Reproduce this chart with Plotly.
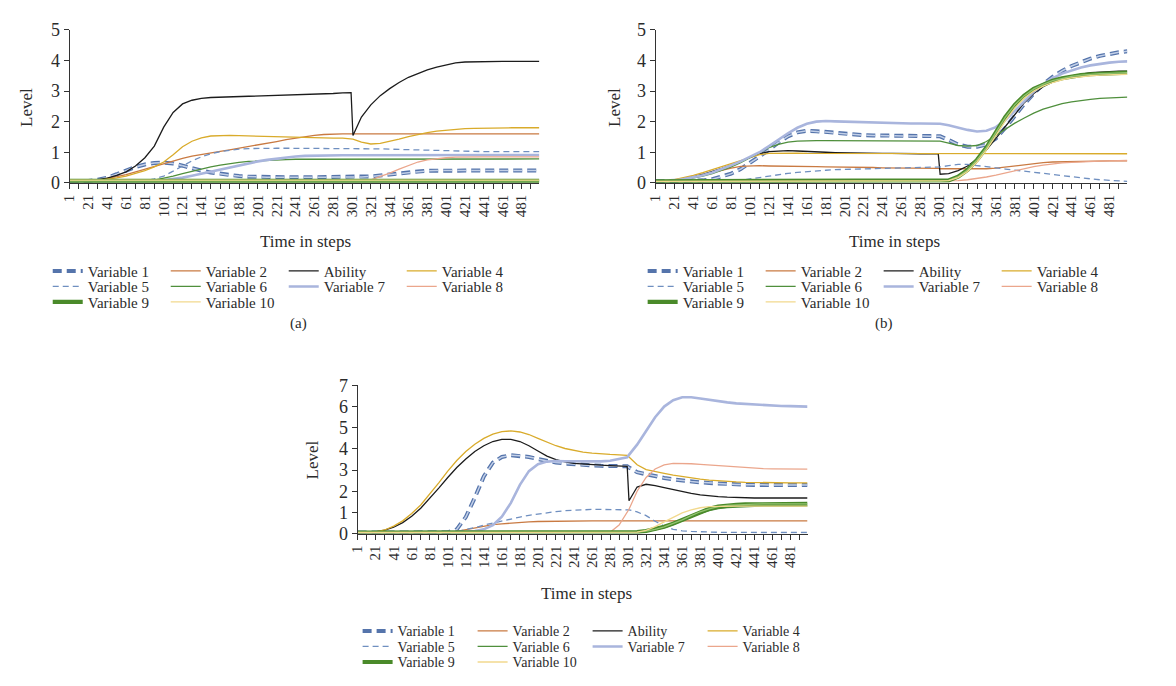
import plotly.graph_objects as go

W, H = 1176, 686

# ---------------- data ----------------
steps = [1, 11, 21, 31, 41, 51, 61, 71, 81, 91,
         101, 111, 121, 131, 141, 151, 161, 171, 181, 191,
         201, 211, 221, 231, 241, 251, 261, 271, 281, 291,
         300, 302, 311, 321, 331, 341, 351, 361, 371, 381,
         391, 401, 411, 421, 431, 441, 451, 461, 471, 481,
         491, 500]

tick_steps = [1, 21, 41, 61, 81, 101, 121, 141, 161, 181, 201, 221, 241,
              261, 281, 301, 321, 341, 361, 381, 401, 421, 441, 461, 481]
tick_labels = [str(s) for s in tick_steps]

series_names = ["Variable 1", "Variable 2", "Ability", "Variable 4", "Variable 5",
                "Variable 6", "Variable 7", "Variable 8", "Variable 9", "Variable 10"]

# ---- panel (a)
a_var1 = [0.05, 0.05, 0.06, 0.10, 0.17, 0.28, 0.40, 0.52, 0.60, 0.65,
          0.66, 0.63, 0.56, 0.47, 0.40, 0.34, 0.29, 0.25, 0.22, 0.20,
          0.19, 0.18, 0.18, 0.18, 0.18, 0.18, 0.18, 0.18, 0.18, 0.18,
          0.18, 0.18, 0.19, 0.21, 0.24, 0.28, 0.32, 0.35, 0.37, 0.39,
          0.40, 0.40, 0.40, 0.40, 0.40, 0.40, 0.40, 0.40, 0.40, 0.40,
          0.40, 0.40]
a_var2 = [0.05, 0.05, 0.06, 0.09, 0.14, 0.20, 0.27, 0.36, 0.45, 0.55,
          0.64, 0.72, 0.80, 0.87, 0.93, 0.98, 1.03, 1.08, 1.13, 1.18,
          1.23, 1.29, 1.35, 1.41, 1.46, 1.51, 1.55, 1.58, 1.60, 1.60,
          1.60, 1.60, 1.60, 1.60, 1.60, 1.60, 1.60, 1.60, 1.60, 1.60,
          1.60, 1.60, 1.60, 1.60, 1.60, 1.60, 1.60, 1.60, 1.60, 1.60,
          1.60, 1.60]
a_ability = [0.05, 0.05, 0.07, 0.10, 0.15, 0.24, 0.36, 0.55, 0.82, 1.20,
             1.82, 2.30, 2.58, 2.70, 2.76, 2.79, 2.80, 2.80, 2.81, 2.81,
             2.82, 2.83, 2.84, 2.85, 2.86, 2.88, 2.89, 2.90, 2.92, 2.94,
             2.95, 1.55, 2.15, 2.55, 2.85, 3.08, 3.28, 3.45, 3.58, 3.69,
             3.78, 3.86, 3.92, 3.95, 3.96, 3.97, 3.97, 3.97, 3.97, 3.97,
             3.97, 3.97]
a_var4 = [0.05, 0.05, 0.06, 0.08, 0.11, 0.16, 0.22, 0.30, 0.40, 0.52,
          0.68, 0.92, 1.18, 1.36, 1.47, 1.53, 1.55, 1.55, 1.54, 1.53,
          1.52, 1.51, 1.50, 1.49, 1.49, 1.48, 1.47, 1.47, 1.46, 1.46,
          1.45, 1.43, 1.33, 1.27, 1.29, 1.35, 1.43, 1.51, 1.58, 1.64,
          1.69, 1.72, 1.75, 1.77, 1.78, 1.79, 1.79, 1.80, 1.80, 1.80,
          1.80, 1.80]
a_var5 = [0.05, 0.05, 0.05, 0.05, 0.05, 0.05, 0.05, 0.05, 0.07, 0.13,
          0.22, 0.38, 0.56, 0.72, 0.85, 0.95, 1.02, 1.07, 1.10, 1.12,
          1.13, 1.13, 1.13, 1.13, 1.13, 1.13, 1.13, 1.13, 1.13, 1.13,
          1.13, 1.13, 1.12, 1.12, 1.11, 1.10, 1.09, 1.08, 1.07, 1.06,
          1.05, 1.04, 1.04, 1.03, 1.03, 1.02, 1.02, 1.02, 1.02, 1.02,
          1.02, 1.02]
a_var6 = [0.05, 0.05, 0.05, 0.05, 0.05, 0.05, 0.05, 0.05, 0.06, 0.09,
          0.15, 0.22, 0.30, 0.38, 0.45, 0.52, 0.58, 0.63, 0.67, 0.70,
          0.72, 0.74, 0.75, 0.76, 0.77, 0.77, 0.77, 0.77, 0.77, 0.77,
          0.77, 0.77, 0.77, 0.77, 0.77, 0.77, 0.77, 0.77, 0.77, 0.77,
          0.78, 0.78, 0.78, 0.78, 0.78, 0.78, 0.78, 0.78, 0.78, 0.78,
          0.78, 0.78]
a_var7 = [0.05, 0.05, 0.05, 0.05, 0.05, 0.05, 0.05, 0.05, 0.05, 0.06,
          0.08, 0.12, 0.17, 0.23, 0.30, 0.37, 0.44, 0.51, 0.58, 0.64,
          0.70, 0.75, 0.79, 0.83, 0.86, 0.88, 0.89, 0.90, 0.90, 0.90,
          0.90, 0.90, 0.90, 0.90, 0.90, 0.90, 0.90, 0.90, 0.90, 0.90,
          0.91, 0.91, 0.91, 0.91, 0.91, 0.91, 0.91, 0.91, 0.91, 0.91,
          0.91, 0.91]
a_var8 = [0.05, 0.05, 0.05, 0.05, 0.05, 0.05, 0.05, 0.05, 0.05, 0.05,
          0.05, 0.05, 0.05, 0.05, 0.05, 0.05, 0.05, 0.05, 0.05, 0.05,
          0.05, 0.05, 0.05, 0.05, 0.05, 0.05, 0.05, 0.05, 0.05, 0.05,
          0.05, 0.05, 0.05, 0.10, 0.20, 0.32, 0.45, 0.57, 0.68, 0.75,
          0.79, 0.82, 0.84, 0.85, 0.85, 0.85, 0.85, 0.85, 0.85, 0.85,
          0.85, 0.85]
a_var9 = [0.06, 0.06, 0.06, 0.06, 0.06, 0.06, 0.06, 0.06, 0.06, 0.06,
          0.06, 0.06, 0.06, 0.06, 0.06, 0.06, 0.06, 0.06, 0.06, 0.06,
          0.06, 0.06, 0.06, 0.06, 0.06, 0.06, 0.06, 0.06, 0.06, 0.06,
          0.06, 0.06, 0.06, 0.06, 0.06, 0.06, 0.06, 0.06, 0.06, 0.06,
          0.06, 0.06, 0.06, 0.06, 0.06, 0.06, 0.06, 0.06, 0.06, 0.06,
          0.06, 0.06]
a_var10 = [0.09, 0.09, 0.09, 0.09, 0.09, 0.09, 0.09, 0.09, 0.09, 0.09,
           0.09, 0.09, 0.09, 0.09, 0.09, 0.09, 0.09, 0.09, 0.09, 0.09,
           0.09, 0.09, 0.09, 0.09, 0.09, 0.09, 0.09, 0.09, 0.09, 0.09,
           0.09, 0.09, 0.09, 0.09, 0.09, 0.09, 0.09, 0.09, 0.09, 0.09,
           0.09, 0.09, 0.09, 0.09, 0.09, 0.09, 0.09, 0.09, 0.09, 0.09,
           0.09, 0.09]

# ---- panel (b)
b_var1 = [0.05, 0.05, 0.05, 0.05, 0.06, 0.08, 0.12, 0.20, 0.30, 0.45,
          0.65, 0.86, 1.08, 1.32, 1.52, 1.65, 1.70, 1.69, 1.66, 1.63,
          1.60, 1.58, 1.56, 1.55, 1.54, 1.54, 1.53, 1.53, 1.53, 1.53,
          1.53, 1.52, 1.40, 1.25, 1.18, 1.18, 1.25, 1.45, 1.80, 2.20,
          2.58, 2.92, 3.22, 3.46, 3.66, 3.82, 3.95, 4.06, 4.15, 4.22,
          4.27, 4.30]
b_var2 = [0.05, 0.05, 0.07, 0.12, 0.18, 0.25, 0.33, 0.41, 0.48, 0.54,
          0.56, 0.56, 0.55, 0.55, 0.54, 0.54, 0.53, 0.53, 0.52, 0.52,
          0.51, 0.51, 0.50, 0.50, 0.49, 0.49, 0.48, 0.48, 0.47, 0.47,
          0.47, 0.46, 0.46, 0.45, 0.45, 0.45, 0.46, 0.48, 0.52, 0.56,
          0.60, 0.63, 0.66, 0.68, 0.69, 0.70, 0.71, 0.71, 0.72, 0.72,
          0.72, 0.72]
b_ability = [0.05, 0.05, 0.08, 0.13, 0.20, 0.28, 0.37, 0.47, 0.58, 0.70,
             0.83, 0.95, 1.02, 1.04, 1.05, 1.04, 1.02, 1.01, 1.00, 0.99,
             0.98, 0.97, 0.97, 0.96, 0.96, 0.96, 0.95, 0.95, 0.95, 0.95,
             0.95, 0.28, 0.30, 0.40, 0.55, 0.78, 1.08, 1.45, 1.85, 2.25,
             2.62, 2.92, 3.14, 3.30, 3.42, 3.50, 3.56, 3.60, 3.62, 3.64,
             3.65, 3.65]
b_var4 = [0.05, 0.06, 0.10, 0.16, 0.24, 0.33, 0.43, 0.53, 0.63, 0.74,
          0.84, 0.92, 0.96, 0.97, 0.97, 0.97, 0.96, 0.96, 0.96, 0.96,
          0.95, 0.95, 0.95, 0.95, 0.95, 0.95, 0.95, 0.95, 0.95, 0.95,
          0.95, 0.95, 0.95, 0.95, 0.95, 0.95, 0.95, 0.95, 0.95, 0.95,
          0.95, 0.95, 0.95, 0.95, 0.95, 0.95, 0.95, 0.95, 0.95, 0.95,
          0.95, 0.95]
b_var5 = [0.05, 0.05, 0.05, 0.05, 0.05, 0.05, 0.05, 0.05, 0.05, 0.08,
          0.13, 0.18, 0.23, 0.27, 0.31, 0.34, 0.37, 0.39, 0.41, 0.43,
          0.44, 0.45, 0.46, 0.47, 0.48, 0.49, 0.50, 0.50, 0.51, 0.51,
          0.52, 0.52, 0.56, 0.60, 0.60, 0.57, 0.53, 0.49, 0.45, 0.42,
          0.39, 0.36, 0.31, 0.27, 0.23, 0.20, 0.16, 0.13, 0.10, 0.08,
          0.06, 0.05]
b_var6 = [0.05, 0.05, 0.07, 0.10, 0.15, 0.22, 0.30, 0.40, 0.52, 0.66,
          0.82, 1.00, 1.15, 1.26, 1.33, 1.36, 1.38, 1.38, 1.38, 1.38,
          1.38, 1.38, 1.37, 1.37, 1.37, 1.37, 1.37, 1.37, 1.37, 1.37,
          1.37, 1.36, 1.30, 1.22, 1.20, 1.22, 1.35, 1.55, 1.75, 1.95,
          2.12, 2.28, 2.41, 2.51, 2.59, 2.65, 2.70, 2.73, 2.76, 2.78,
          2.79, 2.80]
b_var7 = [0.05, 0.05, 0.07, 0.12, 0.18, 0.25, 0.34, 0.45, 0.57, 0.70,
          0.85, 1.00, 1.20, 1.42, 1.62, 1.80, 1.93, 2.00, 2.02, 2.01,
          2.00, 1.99, 1.97, 1.96, 1.95, 1.94, 1.94, 1.94, 1.94, 1.94,
          1.94, 1.93, 1.88, 1.80, 1.73, 1.68, 1.70, 1.82, 2.05, 2.35,
          2.68, 2.98, 3.22, 3.42, 3.57, 3.68, 3.77, 3.84, 3.89, 3.93,
          3.96, 3.97]
b_var8 = [0.05, 0.05, 0.05, 0.05, 0.05, 0.05, 0.05, 0.05, 0.05, 0.05,
          0.05, 0.05, 0.05, 0.05, 0.05, 0.05, 0.05, 0.05, 0.05, 0.05,
          0.05, 0.05, 0.05, 0.05, 0.05, 0.05, 0.05, 0.05, 0.05, 0.05,
          0.05, 0.05, 0.05, 0.07, 0.10, 0.14, 0.19, 0.25, 0.32, 0.40,
          0.47, 0.53, 0.58, 0.62, 0.65, 0.67, 0.69, 0.70, 0.71, 0.72,
          0.73, 0.73]
b_var9 = [0.05, 0.05, 0.05, 0.05, 0.05, 0.05, 0.05, 0.05, 0.05, 0.05,
          0.05, 0.05, 0.05, 0.05, 0.05, 0.05, 0.05, 0.05, 0.05, 0.05,
          0.05, 0.05, 0.05, 0.05, 0.05, 0.05, 0.05, 0.05, 0.05, 0.05,
          0.05, 0.05, 0.08, 0.20, 0.42, 0.75, 1.15, 1.65, 2.15, 2.55,
          2.85, 3.07, 3.22, 3.34, 3.42, 3.48, 3.52, 3.55, 3.57, 3.58,
          3.59, 3.60]
b_var10 = [0.05, 0.05, 0.05, 0.05, 0.05, 0.05, 0.05, 0.05, 0.05, 0.05,
           0.05, 0.05, 0.05, 0.05, 0.05, 0.05, 0.05, 0.05, 0.05, 0.05,
           0.05, 0.05, 0.05, 0.05, 0.05, 0.05, 0.05, 0.05, 0.05, 0.05,
           0.05, 0.05, 0.07, 0.17, 0.37, 0.68, 1.08, 1.55, 2.03, 2.45,
           2.77, 3.00, 3.16, 3.28, 3.37, 3.43, 3.47, 3.50, 3.52, 3.53,
           3.54, 3.55]

# ---- panel (c)
c_var1 = [0.05, 0.05, 0.05, 0.05, 0.05, 0.05, 0.05, 0.05, 0.05, 0.05,
          0.06, 0.20, 0.78, 1.70, 2.70, 3.35, 3.62, 3.70, 3.68, 3.62,
          3.52, 3.43, 3.36, 3.31, 3.27, 3.24, 3.22, 3.20, 3.19, 3.18,
          3.18, 3.12, 2.90, 2.80, 2.70, 2.63, 2.56, 2.50, 2.46, 2.42,
          2.39, 2.36, 2.34, 2.32, 2.31, 2.30, 2.29, 2.29, 2.29, 2.29,
          2.29, 2.29]
c_var2 = [0.05, 0.05, 0.05, 0.05, 0.05, 0.05, 0.05, 0.05, 0.05, 0.05,
          0.06, 0.10, 0.18, 0.27, 0.35, 0.42, 0.46, 0.50, 0.53, 0.55,
          0.57, 0.58, 0.59, 0.60, 0.60, 0.60, 0.60, 0.60, 0.60, 0.60,
          0.60, 0.60, 0.60, 0.60, 0.60, 0.60, 0.60, 0.60, 0.60, 0.60,
          0.60, 0.60, 0.60, 0.60, 0.60, 0.60, 0.60, 0.60, 0.60, 0.60,
          0.60, 0.60]
c_ability = [0.05, 0.05, 0.08, 0.16, 0.30, 0.52, 0.82, 1.20, 1.65, 2.15,
             2.65, 3.12, 3.52, 3.88, 4.15, 4.35, 4.45, 4.45, 4.35, 4.15,
             3.90, 3.66, 3.50, 3.39, 3.32, 3.28, 3.25, 3.23, 3.21, 3.19,
             3.18, 1.55, 2.20, 2.33, 2.27, 2.17, 2.07, 1.98, 1.90, 1.83,
             1.78, 1.75, 1.72, 1.70, 1.69, 1.68, 1.68, 1.68, 1.68, 1.68,
             1.68, 1.68]
c_var4 = [0.05, 0.05, 0.08, 0.17, 0.35, 0.60, 0.95, 1.35, 1.85, 2.40,
          2.95, 3.45, 3.88, 4.22, 4.50, 4.70, 4.82, 4.85, 4.80, 4.68,
          4.50, 4.32, 4.15, 4.02, 3.92, 3.85, 3.80, 3.76, 3.74, 3.72,
          3.70, 3.62, 3.25, 3.02, 2.92, 2.84, 2.76, 2.69, 2.63, 2.57,
          2.53, 2.49, 2.46, 2.44, 2.42, 2.41, 2.40, 2.40, 2.40, 2.40,
          2.40, 2.40]
c_var5 = [0.05, 0.05, 0.05, 0.05, 0.05, 0.05, 0.05, 0.05, 0.05, 0.05,
          0.06, 0.10, 0.18, 0.28, 0.40, 0.50, 0.60, 0.68, 0.78, 0.86,
          0.93, 0.99, 1.04, 1.08, 1.11, 1.13, 1.14, 1.14, 1.13, 1.12,
          1.12, 1.12, 1.02, 0.85, 0.58, 0.35, 0.20, 0.13, 0.10, 0.08,
          0.07, 0.06, 0.06, 0.05, 0.05, 0.05, 0.05, 0.05, 0.05, 0.05,
          0.05, 0.05]
c_var6 = [0.05, 0.05, 0.05, 0.05, 0.05, 0.05, 0.05, 0.05, 0.05, 0.05,
          0.05, 0.05, 0.05, 0.05, 0.05, 0.05, 0.05, 0.05, 0.05, 0.05,
          0.05, 0.05, 0.05, 0.05, 0.05, 0.05, 0.05, 0.05, 0.05, 0.05,
          0.05, 0.05, 0.06, 0.10, 0.17, 0.28, 0.42, 0.60, 0.79, 0.96,
          1.09, 1.18, 1.23, 1.26, 1.28, 1.29, 1.30, 1.30, 1.30, 1.30,
          1.30, 1.30]
c_var7 = [0.05, 0.05, 0.05, 0.05, 0.05, 0.05, 0.05, 0.05, 0.05, 0.05,
          0.05, 0.06, 0.08, 0.12, 0.20, 0.40, 0.80, 1.45, 2.30, 2.95,
          3.28, 3.40, 3.43, 3.42, 3.41, 3.40, 3.40, 3.41, 3.44, 3.52,
          3.60, 3.72, 4.20, 4.85, 5.50, 6.00, 6.30, 6.44, 6.44, 6.38,
          6.31, 6.25, 6.20, 6.15, 6.12, 6.10, 6.08, 6.06, 6.03, 6.02,
          6.01, 6.00]
c_var8 = [0.05, 0.05, 0.05, 0.05, 0.05, 0.05, 0.05, 0.05, 0.05, 0.05,
          0.05, 0.05, 0.05, 0.05, 0.05, 0.05, 0.05, 0.05, 0.05, 0.05,
          0.05, 0.05, 0.05, 0.05, 0.05, 0.05, 0.05, 0.05, 0.06, 0.40,
          1.00, 1.15, 2.00, 2.65, 3.05, 3.25, 3.32, 3.32, 3.30, 3.27,
          3.24, 3.20, 3.16, 3.13, 3.10, 3.08, 3.07, 3.06, 3.05, 3.05,
          3.05, 3.05]
c_var9 = [0.05, 0.05, 0.05, 0.05, 0.05, 0.05, 0.05, 0.05, 0.05, 0.05,
          0.05, 0.05, 0.05, 0.05, 0.05, 0.05, 0.05, 0.05, 0.05, 0.05,
          0.05, 0.05, 0.05, 0.05, 0.05, 0.05, 0.05, 0.05, 0.05, 0.05,
          0.05, 0.05, 0.07, 0.12, 0.20, 0.32, 0.47, 0.65, 0.85, 1.03,
          1.17, 1.27, 1.33, 1.36, 1.38, 1.39, 1.40, 1.40, 1.40, 1.40,
          1.40, 1.40]
c_var10 = [0.05, 0.05, 0.05, 0.05, 0.05, 0.05, 0.05, 0.05, 0.05, 0.05,
           0.05, 0.05, 0.05, 0.05, 0.05, 0.05, 0.05, 0.05, 0.05, 0.05,
           0.05, 0.05, 0.05, 0.05, 0.05, 0.05, 0.05, 0.05, 0.05, 0.05,
           0.05, 0.05, 0.07, 0.15, 0.33, 0.55, 0.78, 0.98, 1.12, 1.22,
           1.27, 1.29, 1.30, 1.30, 1.30, 1.30, 1.30, 1.30, 1.30, 1.30,
           1.30, 1.30]

panel_a = [a_var1, a_var2, a_ability, a_var4, a_var5, a_var6, a_var7, a_var8, a_var9, a_var10]
panel_b = [b_var1, b_var2, b_ability, b_var4, b_var5, b_var6, b_var7, b_var8, b_var9, b_var10]
panel_c = [c_var1, c_var2, c_ability, c_var4, c_var5, c_var6, c_var7, c_var8, c_var9, c_var10]

# ---------------- styles ----------------
FONT = "Liberation Serif"
TXT = "#2b2b2b"
styles = {
    "Variable 1": dict(color="#5574ab", width=4.0, dash="9px,5px"),
    "Variable 2": dict(color="#c97a42", width=1.3),
    "Ability": dict(color="#1c1c1c", width=1.3),
    "Variable 4": dict(color="#d9ab2b", width=1.3),
    "Variable 5": dict(color="#6f8fc0", width=1.3, dash="6px,4px"),
    "Variable 6": dict(color="#4f8f3c", width=1.3),
    "Variable 7": dict(color="#a9b5dd", width=2.6),
    "Variable 8": dict(color="#eba68c", width=1.3),
    "Variable 9": dict(color="#4a8a2a", width=4.2),
    "Variable 10": dict(color="#f2d98e", width=1.3),
}
overlays = {
    "Variable 1": dict(color="#c3d0e8", width=1.5, dash="9px,5px"),
    "Variable 9": dict(color="#93c472", width=1.3),
}
rows = [[0, 1, 2, 3], [4, 5, 6, 7], [8, 9]]

panels = [
    dict(data=panel_a, xa="x", ya="y", legends=["legend", "legend2", "legend3"]),
    dict(data=panel_b, xa="x2", ya="y2", legends=["legend4", "legend5", "legend6"]),
    dict(data=panel_c, xa="x3", ya="y3", legends=["legend7", "legend8", "legend9"]),
]

fig = go.Figure()
for p in panels:
    for i, name in enumerate(series_names):
        leg = [p["legends"][r] for r, idxs in enumerate(rows) if i in idxs][0]
        fig.add_trace(go.Scatter(
            x=steps, y=p["data"][i], mode="lines", name=name,
            line=styles[name], xaxis=p["xa"], yaxis=p["ya"], legend=leg,
            hoverinfo="skip"))
        if name in overlays:
            fig.add_trace(go.Scatter(
                x=steps, y=p["data"][i], mode="lines", name=name,
                line=overlays[name], xaxis=p["xa"], yaxis=p["ya"],
                showlegend=False, hoverinfo="skip"))


def xax(x0, x1, anchor):
    return dict(domain=[x0 / W, x1 / W], anchor=anchor, range=[1, 500],
                tickmode="array", tickvals=tick_steps, ticktext=tick_labels,
                tickangle=-90, ticks="outside", ticklen=5, tickwidth=1,
                tickcolor="#333", showline=True, linecolor="#333", linewidth=1,
                showgrid=False, zeroline=False,
                tickfont=dict(family=FONT, size=15, color=TXT),
                minor=dict(ticks="outside", ticklen=5, tickwidth=1, tickcolor="#333",
                           tick0=1, dtick=10, showgrid=False))


def yax(top, bottom, ymax, anchor):
    return dict(domain=[1 - bottom / H, 1 - top / H], anchor=anchor, range=[0, ymax],
                dtick=1, ticks="outside", ticklen=5, tickwidth=1, tickcolor="#333",
                showline=True, linecolor="#333", linewidth=1, showgrid=False,
                zeroline=False, tickfont=dict(family=FONT, size=18, color=TXT))


legend_common = dict(orientation="h", xanchor="left", yanchor="middle",
                     bgcolor="rgba(0,0,0,0)", borderwidth=0, itemwidth=30,
                     entrywidthmode="pixels", itemclick=False, itemdoubleclick=False)
legends = {}
for j, (lx, ys, ew, fs) in enumerate([(40, [269, 285, 301], 73, 15),
                                       (639, [269, 285, 301], 73, 15),
                                       (352, [640, 656, 672], 70, 14)]):
    for r in range(3):
        key = "legend" if (j == 0 and r == 0) else "legend%d" % (j * 3 + r + 1)
        legends[key] = dict(legend_common, x=lx / W, y=1 - ys[r] / H, entrywidth=ew,
                            font=dict(family=FONT, size=fs, color=TXT))

ann = []
def text(t, px, py, size=17, angle=0):
    ann.append(dict(text=t, x=px / W, y=1 - py / H, xref="paper", yref="paper",
                    xanchor="center", yanchor="middle",
                    showarrow=False, textangle=angle,
                    font=dict(family=FONT, size=size, color=TXT)))

text("Level", 18, 100, 17, -90)
text("Level", 610, 100, 17, -90)
text("Level", 307, 463, 17, -90)
text("Time in steps", 300, 238)
text("Time in steps", 893, 238)
text("Time in steps", 582, 601)
text("(a)", 292, 323, 15)
text("(b)", 882, 323, 15)

fig.update_layout(
    width=W, height=H, margin=dict(l=0, r=0, t=0, b=0),
    paper_bgcolor="white", plot_bgcolor="white",
    xaxis=xax(62, 535, "y"), yaxis=yax(20.5, 178, 5, "x"),
    xaxis2=xax(652, 1127, "y2"), yaxis2=yax(20.5, 178, 5, "x2"),
    xaxis3=xax(352, 805, "y3"), yaxis3=yax(386.7, 539.3, 7, "x3"),
    annotations=ann, showlegend=True, **legends)

fig.write_html("out.html")
